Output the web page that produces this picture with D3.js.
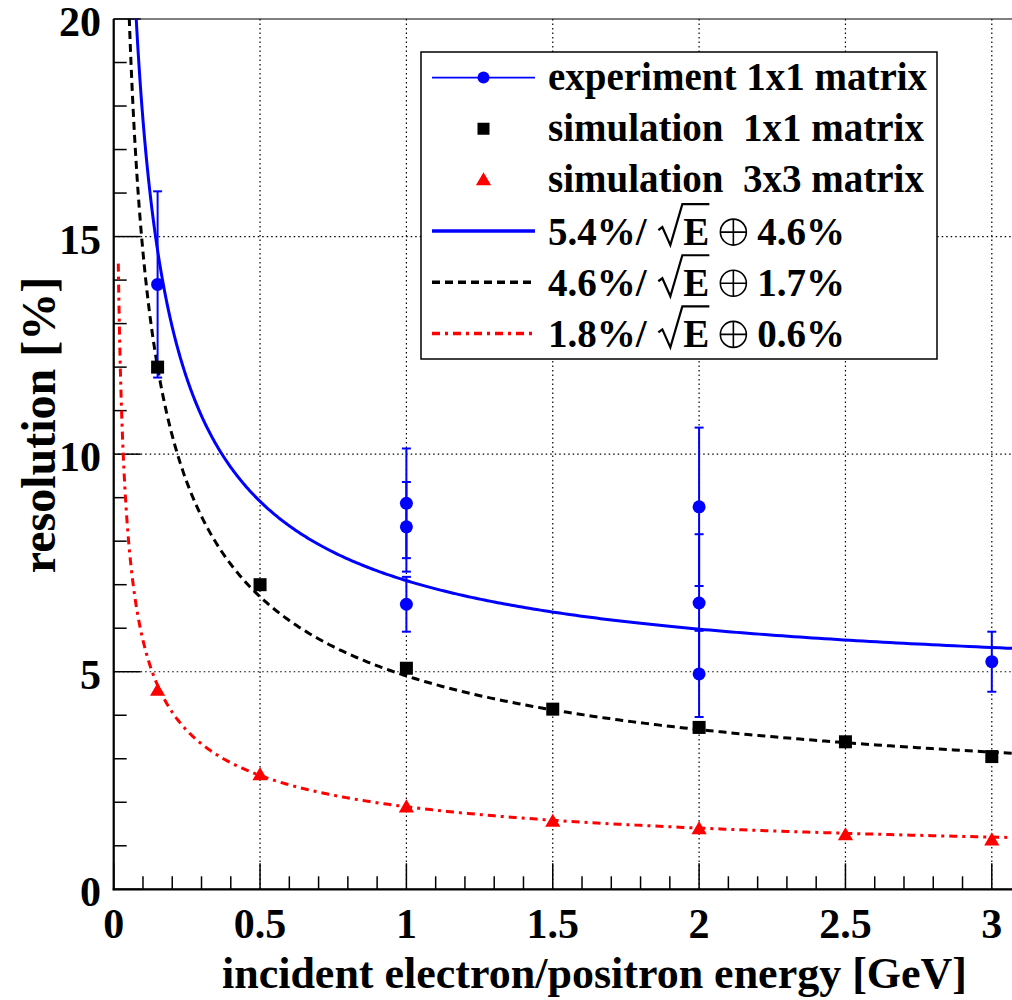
<!DOCTYPE html>
<html><head><meta charset="utf-8">
<script src="https://cdn.jsdelivr.net/npm/d3@7"></script>
<style>
body{margin:0;background:#fff}
text{font-family:"Liberation Serif","Times New Roman",serif;font-weight:bold;fill:#000}
</style></head><body>
<svg id="c" width="1012" height="1000"></svg>
<script>
// ---- data ----
const simEnergy = [0.15, 0.5, 1, 1.5, 2, 2.5, 3];
const sim1x1 = [12.0, 7.0, 5.08, 4.14, 3.72, 3.39, 3.05];
const sim3x3 = [4.57, 2.63, 1.89, 1.56, 1.39, 1.25, 1.13];
const expEnergy = [0.15, 1, 1, 1, 2, 2, 2, 3];
const expRes = [13.9, 8.87, 8.33, 6.55, 8.79, 6.58, 4.95, 5.23];
const expErr = [2.14, 1.26, 1.03, 0.63, 1.82, 1.58, 0.99, 0.69];
const fitStoch = [5.4, 4.6, 1.8];   // % / sqrt(E)
const fitConst = [4.6, 1.7, 0.6];   // %
const fitRange = [0.0157, 3.08];
const xTicks = [0, 0.5, 1, 1.5, 2, 2.5, 3];
const yTicks = [0, 5, 10, 15, 20];
const legendLabels = ["experiment 1x1 matrix", "simulation  1x1 matrix", "simulation  3x3 matrix"];
const xTitle = "incident electron/positron energy [GeV]";
const yTitle = "resolution [%]";

// ---- layout ----
const L = 113.7, T = 19, B = 889.3, R = 1013;
const svg = d3.select("#c");
const x = d3.scaleLinear().domain([0, (R - L) / 292.7]).range([L, R]);
const y = d3.scaleLinear().domain([0, 20]).range([B, T]);

svg.append("defs").append("clipPath").attr("id", "clip")
  .append("rect").attr("x", L).attr("y", T).attr("width", R - L).attr("height", B - T);

// grid
const g = svg.append("g");
g.selectAll(".gx").data(xTicks.filter(d => d > 0)).join("line")
  .attr("x1", d => x(d)).attr("x2", d => x(d)).attr("y1", T).attr("y2", B)
  .attr("stroke", "#000").attr("stroke-width", 1.2).attr("stroke-dasharray", "1.5,3");
g.selectAll(".gy").data(yTicks.filter(d => d > 0 && d < 20)).join("line")
  .attr("y1", d => y(d)).attr("y2", d => y(d)).attr("x1", L).attr("x2", R)
  .attr("stroke", "#000").attr("stroke-width", 1.2).attr("stroke-dasharray", "1.5,3");

// ticks (inside)
const xMinor = d3.range(0, 31).map(i => i / 10);
svg.append("g").selectAll("line").data(xMinor).join("line")
  .attr("x1", d => x(d)).attr("x2", d => x(d)).attr("y1", B)
  .attr("y2", d => B - (Math.abs(d * 2 - Math.round(d * 2)) < 1e-6 ? 26 : 13))
  .attr("stroke", "#000").attr("stroke-width", 1.5);
const yMinor = d3.range(0, 21);
svg.append("g").selectAll("line").data(yMinor).join("line")
  .attr("y1", d => y(d)).attr("y2", d => y(d)).attr("x1", L)
  .attr("x2", d => L + (d % 5 === 0 ? 27 : 13))
  .attr("stroke", "#000").attr("stroke-width", 1.5);

// frame
svg.append("rect").attr("x", L).attr("y", T).attr("width", R - L).attr("height", B - T)
  .attr("fill", "none").attr("stroke", "#000").attr("stroke-width", 1);
svg.append("line").attr("x1", L).attr("x2", L).attr("y1", T).attr("y2", B + 1).attr("stroke", "#000").attr("stroke-width", 2.2);
svg.append("line").attr("x1", L - 1).attr("x2", R).attr("y1", B).attr("y2", B).attr("stroke", "#000").attr("stroke-width", 2.2);

// tick labels
svg.append("g").selectAll("text").data(xTicks).join("text")
  .attr("x", d => x(d)).attr("y", 938).attr("text-anchor", "middle")
  .attr("font-size", 42).text(d => d3.format("")(d));
svg.append("g").selectAll("text").data(yTicks).join("text")
  .attr("x", 101).attr("y", d => y(d) + 17).attr("text-anchor", "end")
  .attr("font-size", 42).text(d => d);

// titles
svg.append("text").attr("x", 967).attr("y", 988).attr("text-anchor", "end")
  .attr("font-size", 44).text(xTitle);
svg.append("text").attr("transform", "translate(55,425) rotate(-90)").attr("text-anchor", "middle")
  .attr("font-size", 48).text(yTitle);

// fit curves
const fitColors = ["#0000ff", "#000000", "#ff0000"];
const fitDash = [null, "8,5", "8,5,3,5"];
const sampleE = d3.range(0, 601).map(i => fitRange[0] * Math.pow(fitRange[1] / fitRange[0], i / 600));
const curves = svg.append("g").attr("clip-path", "url(#clip)");
fitStoch.forEach((a, k) => {
  const pts = sampleE.map(e => [e, Math.hypot(a / Math.sqrt(e), fitConst[k])]);
  curves.append("path").datum(pts)
    .attr("d", d3.line().x(d => x(d[0])).y(d => y(Math.min(d[1], 40))))
    .attr("fill", "none").attr("stroke", fitColors[k]).attr("stroke-width", 3)
    .attr("stroke-dasharray", fitDash[k]);
});

// experiment error bars + points
const expData = expEnergy.map((e, i) => ({ e, r: expRes[i], err: expErr[i] }));
const eb = svg.append("g").attr("stroke", "#0000ff").attr("stroke-width", 2);
eb.selectAll(".v").data(expData).join("line")
  .attr("x1", d => x(d.e)).attr("x2", d => x(d.e))
  .attr("y1", d => y(d.r - d.err)).attr("y2", d => y(d.r + d.err));
eb.selectAll(".cu").data(expData).join("line")
  .attr("x1", d => x(d.e) - 4.5).attr("x2", d => x(d.e) + 4.5)
  .attr("y1", d => y(d.r + d.err)).attr("y2", d => y(d.r + d.err));
eb.selectAll(".cl").data(expData).join("line")
  .attr("x1", d => x(d.e) - 4.5).attr("x2", d => x(d.e) + 4.5)
  .attr("y1", d => y(d.r - d.err)).attr("y2", d => y(d.r - d.err));

// simulation markers
const sq = 13;
svg.append("g").selectAll("rect").data(simEnergy.map((e, i) => [e, sim1x1[i]])).join("rect")
  .attr("x", d => x(d[0]) - sq / 2).attr("y", d => y(d[1]) - sq / 2)
  .attr("width", sq).attr("height", sq).attr("fill", "#000");
const tri = d3.symbol().type(d3.symbolTriangle).size(100);
svg.append("g").selectAll("path").data(simEnergy.map((e, i) => [e, sim3x3[i]])).join("path")
  .attr("d", tri).attr("transform", d => `translate(${x(d[0])},${y(d[1]) + 1})`).attr("fill", "#ff0000");
svg.append("g").selectAll("circle").data(expData).join("circle")
  .attr("cx", d => x(d.e)).attr("cy", d => y(d.r)).attr("r", 6.5).attr("fill", "#0000ff");

// legend
const LX = 421, LY = 52, LW = 516, LH = 307, rowH = LH / 6;
const leg = svg.append("g");
leg.append("rect").attr("x", LX).attr("y", LY).attr("width", LW).attr("height", LH)
  .attr("fill", "#fff").attr("stroke", "#000").attr("stroke-width", 1.5);
const rowY = i => LY + rowH * (i + 0.5);
const sx0 = 432, sx1 = 535, smid = 483.5, tx = 548, fs = 39;
leg.append("line").attr("x1", sx0).attr("x2", sx1).attr("y1", rowY(0)).attr("y2", rowY(0))
  .attr("stroke", "#0000ff").attr("stroke-width", 1.7);
leg.append("circle").attr("cx", smid).attr("cy", rowY(0)).attr("r", 6).attr("fill", "#0000ff");
leg.append("rect").attr("x", smid - 6).attr("y", rowY(1) - 6).attr("width", 12).attr("height", 12).attr("fill", "#000");
leg.append("path").attr("d", tri).attr("transform", `translate(${smid},${rowY(2) + 1})`).attr("fill", "#ff0000");
legendLabels.forEach((t, i) => {
  leg.append("text").attr("x", tx).attr("y", rowY(i) + 12).attr("font-size", fs)
    .style("white-space", "pre").text(t);
});
fitStoch.forEach((a, k) => {
  const cy = rowY(3 + k), base = cy + 14;
  leg.append("line").attr("x1", sx0).attr("x2", sx1).attr("y1", cy).attr("y2", cy)
    .attr("stroke", fitColors[k]).attr("stroke-width", 3.5).attr("stroke-dasharray", fitDash[k]);
  const t = leg.append("text").attr("x", tx).attr("y", base).attr("font-size", fs)
    .style("white-space", "pre");
  t.append("tspan").text(d3.format(".1f")(a) + "%/ ");
  t.append("tspan").attr("dx", 27).text("E");
  t.append("tspan").attr("dx", 48).text(d3.format(".1f")(fitConst[k]) + "%");
  const node = t.node();
  const s = node.textContent;
  const iE = s.indexOf("E");
  const xs = node.getStartPositionOfChar(iE).x, xe = node.getEndPositionOfChar(iE).x;
  const rx = xs - 25;
  leg.append("path")
    .attr("d", `M${rx},${base - 15} L${rx + 4},${base - 18} L${rx + 12},${base} L${rx + 24},${base - 41} H${xe}`)
    .attr("fill", "none").attr("stroke", "#000").attr("stroke-width", 2.2).attr("stroke-linejoin", "miter");
  // direct-sum sign (circle with plus)
  const ox = xe + 24, oy = base - 13, orad = 13;
  leg.append("circle").attr("cx", ox).attr("cy", oy).attr("r", orad)
    .attr("fill", "none").attr("stroke", "#000").attr("stroke-width", 1.6);
  leg.append("path").attr("d", `M${ox - orad},${oy} H${ox + orad} M${ox},${oy - orad} V${oy + orad}`)
    .attr("stroke", "#000").attr("stroke-width", 1.6);
});
</script>
</body></html>
